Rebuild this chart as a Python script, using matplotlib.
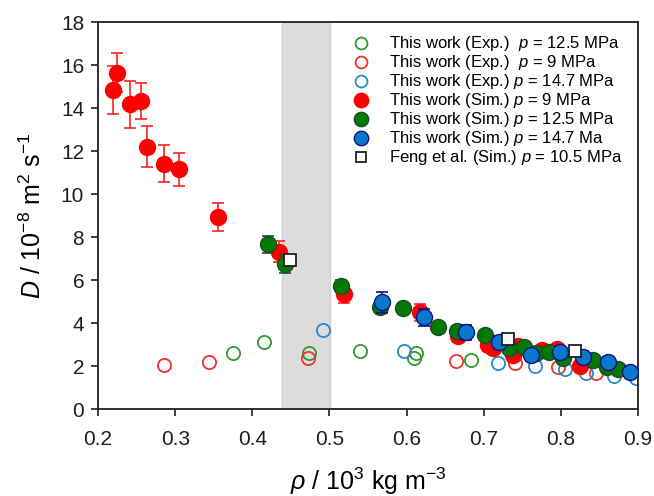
import matplotlib
matplotlib.use("Agg")
import matplotlib.pyplot as plt
import numpy as np

plt.rcParams['font.family'] = ['Liberation Sans', 'DejaVu Sans']
plt.rcParams['mathtext.fontset'] = 'custom'
plt.rcParams['mathtext.rm'] = 'Liberation Sans'
plt.rcParams['mathtext.it'] = 'Liberation Sans:italic'

# Experimental (open circles)
exp_g_x = [0.375, 0.4156, 0.473, 0.54, 0.61, 0.612, 0.683]
exp_g_y = [2.6, 3.1, 2.62, 2.7, 2.36, 2.59, 2.26]
exp_r_x = [0.2856, 0.344, 0.472, 0.664, 0.74, 0.796, 0.846]
exp_r_y = [2.05, 2.19, 2.39, 2.23, 2.12, 1.94, 1.66]
exp_b_x = [0.492, 0.596, 0.718, 0.767, 0.805, 0.833, 0.869, 0.897]
exp_b_y = [3.69, 2.7, 2.15, 1.98, 1.85, 1.69, 1.55, 1.43]

# Simulation, 9 MPa (red)
sim_r_x = [0.219, 0.225, 0.241, 0.255, 0.264, 0.286, 0.305, 0.355, 0.434, 0.519,
           0.617, 0.666, 0.705, 0.712, 0.738, 0.745, 0.775, 0.795, 0.825]
sim_r_y = [14.84, 15.64, 14.17, 14.33, 12.2, 11.41, 11.15, 8.93, 7.32, 5.33,
           4.5, 3.4, 3.0, 2.85, 2.5, 2.95, 2.75, 2.8, 2.0]
sim_r_e = [1.1, 0.9, 1.1, 0.85, 0.95, 0.86, 0.78, 0.67, 0.5, 0.42,
           0.4, 0.3, 0.3, 0.3, 0.25, 0.25, 0.2, 0.2, 0.2]

# Simulation, 12.5 MPa (green)
sim_g_x = [0.42, 0.442, 0.515, 0.566, 0.595, 0.641, 0.665, 0.702, 0.733, 0.752,
           0.768, 0.785, 0.803, 0.842, 0.86, 0.874]
sim_g_y = [7.67, 6.74, 5.72, 4.73, 4.68, 3.8, 3.64, 3.44, 2.82, 2.9,
           2.62, 2.67, 2.36, 2.28, 1.94, 1.85]
sim_g_e = [0.4, 0.4, 0.3, 0.2, 0.2, 0.15, 0.2, 0.2, 0.2, 0.2,
           0.2, 0.2, 0.2, 0.2, 0.2, 0.2]

# Simulation, 14.7 MPa (blue)
sim_b_x = [0.568, 0.623, 0.677, 0.72, 0.761, 0.799, 0.829, 0.861, 0.89]
sim_b_y = [4.96, 4.26, 3.58, 3.1, 2.5, 2.64, 2.43, 2.2, 1.74]
sim_b_e = [0.48, 0.38, 0.35, 0.3, 0.25, 0.25, 0.25, 0.2, 0.2]

# Feng et al.
feng_x = [0.449, 0.731, 0.818]
feng_y = [6.93, 3.27, 2.71]

band = (0.438, 0.501)

fig = plt.figure(figsize=(6.54, 4.96), dpi=100)
ax = fig.add_axes([0.15, 0.1754, 0.8255, 0.7802])

ax.axvspan(band[0], band[1], color='#DCDCDC', zorder=0, lw=1, ec='#D0D0D0')

ms_open = 9.5
ms_fill = 11.5
h1, = ax.plot(exp_g_x, exp_g_y, 'o', mfc='none', mec='#2E9A2E', ms=ms_open, mew=1.3, zorder=2)
h2, = ax.plot(exp_r_x, exp_r_y, 'o', mfc='none', mec='#F03030', ms=ms_open, mew=1.3, zorder=2)
h3, = ax.plot(exp_b_x, exp_b_y, 'o', mfc='none', mec='#2A88CC', ms=ms_open, mew=1.3, zorder=2)

ax.errorbar(sim_r_x, sim_r_y, yerr=sim_r_e, fmt='none', ecolor='#FF2020', elinewidth=1.2, capsize=4, capthick=1.2, zorder=3)
h4, = ax.plot(sim_r_x, sim_r_y, 'o', mfc='#FF0000', mec='#FF0000', ms=ms_fill, zorder=3)
ax.errorbar(sim_g_x, sim_g_y, yerr=sim_g_e, fmt='none', ecolor='#254A40', elinewidth=1.2, capsize=4, capthick=1.2, zorder=4)
h5, = ax.plot(sim_g_x, sim_g_y, 'o', mfc='#007A00', mec='#1C4A30', ms=ms_fill, mew=1.0, zorder=4)
ax.errorbar(sim_b_x, sim_b_y, yerr=sim_b_e, fmt='none', ecolor='#10108A', elinewidth=1.2, capsize=4, capthick=1.2, zorder=5)
h6, = ax.plot(sim_b_x, sim_b_y, 'o', mfc='#0A78C8', mec='#10108A', ms=ms_fill, mew=1.0, zorder=5)
h7, = ax.plot(feng_x, feng_y, 's', mfc='white', mec='#202020', ms=8.5, mew=1.3, zorder=6)

labels = [
    'This work (Exp.)  $p$ = 12.5 MPa',
    'This work (Exp.)  $p$ = 9 MPa',
    'This work (Exp.) $p$ = 14.7 MPa',
    'This work (Sim.) $p$ = 9 MPa',
    'This work (Sim.) $p$ = 12.5 MPa',
    'This work (Sim.) $p$ = 14.7 Ma',
    'Feng et al. (Sim.) $p$ = 10.5 MPa',
]
leg = ax.legend([h1, h2, h3, h4, h5, h6, h7], labels, loc='upper left',
                bbox_to_anchor=(0.459, 0.985), frameon=False, fontsize=12,
                handlelength=1.0, handletextpad=1.2, labelspacing=0.0,
                markerscale=0.9, borderaxespad=0)

ax.set_xlim(0.2, 0.9)
ax.set_ylim(0, 18)
ax.set_xticks(np.arange(0.2, 0.91, 0.1))
ax.set_xticklabels(['0.2', '0.3', '0.4', '0.5', '0.6', '0.7', '0.8', '0.9'])
ax.set_yticks(range(0, 19, 2))
ax.tick_params(direction='out', length=5, width=1.2, labelsize=15, colors='#202020')
ax.tick_params(axis='x', pad=10)
ax.tick_params(axis='y', pad=5)
for s in ax.spines.values():
    s.set_linewidth(1.3)
    s.set_color('#202020')

ax.set_xlabel(r'$\rho$ / 10$^{3}$ kg m$^{-3}$', fontsize=18, labelpad=12)
ax.set_ylabel(r'$D$ / 10$^{-8}$ m$^{2}$ s$^{-1}$', fontsize=18, labelpad=11)

fig.savefig('out.png', dpi=100)
